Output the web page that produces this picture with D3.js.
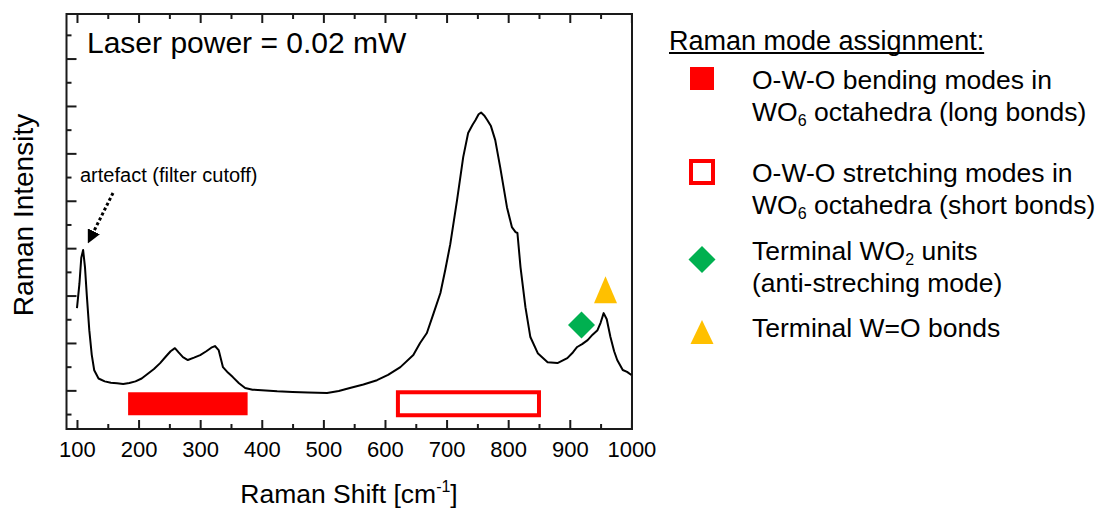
<!DOCTYPE html>
<html>
<head>
<meta charset="utf-8">
<script src="https://cdn.jsdelivr.net/npm/d3@7"></script>
<style>
  body { margin: 0; background: #fff; }
  text { font-family: Arial, "Liberation Sans", sans-serif; fill: #000; }
</style>
</head>
<body>
<div id="chartContainer"></div>
<script>
// spectrum (arb. units)
var shift = [100, 104, 107, 110, 113, 116, 120, 124, 128, 135, 145, 155, 165, 175, 185, 195, 205, 215, 225, 235, 245, 252, 259, 265, 272, 280, 290, 300, 310, 318, 324, 330, 337, 345, 353, 363, 373, 385, 400, 425, 450, 475, 506, 525, 543, 565, 587, 605, 625, 646, 657, 668, 679, 690, 698, 706, 717, 727, 735, 742, 747, 752, 756, 761, 766, 772, 779, 787, 793, 798, 806, 812, 815, 820, 828, 836, 848, 864, 880, 896, 905, 912, 920, 929, 937, 945, 950, 955, 960, 966, 972, 977, 986, 993, 1000];
var intensity = [347, 450, 560, 592, 520, 400, 254, 150, 85, 50, 38, 32, 30, 27, 31, 38, 50, 70, 90, 115, 145, 165, 178, 160, 140, 128, 138, 149, 165, 180, 187, 170, 98, 75, 56, 30, 10, 3, 1, -4, -7, -9, -11, -3, 10, 25, 43, 65, 98, 149, 200, 242, 326, 411, 510, 617, 803, 984, 1086, 1120, 1141, 1165, 1172, 1160, 1141, 1115, 1056, 942, 850, 773, 689, 668, 664, 520, 351, 225, 157, 119, 115, 136, 160, 183, 195, 212, 235, 254, 285, 326, 300, 225, 165, 128, 86, 78, 65];

var xTicks = [100, 200, 300, 400, 500, 600, 700, 800, 900, 1000];
var xMinorTicks = [150, 250, 350, 450, 550, 650, 750, 850, 950];
var yTicks = [0, 200, 400, 600, 800, 1000, 1200, 1400];
var yMinorTicks = [-100, 100, 300, 500, 700, 900, 1100, 1300, 1500];

// mode bands and markers (x in cm-1, y in intensity units)
var bendingBand = [183, 377];
var stretchingBand = [621, 850];
var bandLevel = [-105, -8];
var wo2Marker = [919, 276];
var woMarker = [958, 368];

var legendTitle = "Raman mode assignment:";
var legendItems = [
  {kind: "filled", lines: [["O-W-O bending modes in"], ["WO", "6", " octahedra (long bonds)"]]},
  {kind: "open", lines: [["O-W-O stretching modes in"], ["WO", "6", " octahedra (short bonds)"]]},
  {kind: "diamond", lines: [["Terminal WO", "2", " units"], ["(anti-streching mode)"]]},
  {kind: "triangle", lines: [["Terminal W=O bonds"]]}
];

var RED = "#ff0000", GREEN = "#00b050", GOLD = "#ffc000";

var svg = d3.select("#chartContainer").append("svg")
  .attr("width", 1101)
  .attr("height", 510);

var plot = {left: 66.5, right: 632, top: 14, bottom: 429};

var x = d3.scaleLinear().domain([83, 1001]).range([plot.left, plot.right]);
var y = d3.scaleLinear().domain([-163, 1588]).range([plot.bottom, plot.top]);

var g = svg.append("g");

// bottom axis
var bottomAxis = g.append("g")
  .attr("transform", "translate(0," + plot.bottom + ")")
  .call(d3.axisBottom(x).tickValues(xTicks).tickSize(-9).tickPadding(12).tickFormat(d3.format("d")));
bottomAxis.append("g").call(d3.axisBottom(x).tickValues(xMinorTicks).tickSize(-5).tickFormat(""));
bottomAxis.selectAll("text")
  .style("font-size", "22px")
  .style("font-family", "Arial, 'Liberation Sans', sans-serif")
  .attr("fill", "#000");

// top axis, ticks only
var topAxis = g.append("g")
  .attr("transform", "translate(0," + plot.top + ")")
  .call(d3.axisTop(x).tickValues(xTicks).tickSize(-9).tickFormat(""));
topAxis.append("g").call(d3.axisTop(x).tickValues(xMinorTicks).tickSize(-5).tickFormat(""));

// left axis, ticks only
var leftAxis = g.append("g")
  .attr("transform", "translate(" + plot.left + ",0)")
  .call(d3.axisLeft(y).tickValues(yTicks).tickSize(-10).tickFormat(""));
leftAxis.append("g").call(d3.axisLeft(y).tickValues(yMinorTicks).tickSize(-5).tickFormat(""));

g.selectAll(".domain").remove();
g.selectAll(".tick line").attr("stroke", "#1a1a1a").attr("stroke-width", 2);

// frame
g.append("rect")
  .attr("x", plot.left).attr("y", plot.top)
  .attr("width", plot.right - plot.left).attr("height", plot.bottom - plot.top)
  .attr("fill", "none").attr("stroke", "#1a1a1a").attr("stroke-width", 2);

// bands
g.append("rect")
  .attr("x", x(bendingBand[0])).attr("y", y(bandLevel[1]))
  .attr("width", x(bendingBand[1]) - x(bendingBand[0]))
  .attr("height", y(bandLevel[0]) - y(bandLevel[1]))
  .attr("fill", RED);
g.append("rect")
  .attr("x", x(stretchingBand[0])).attr("y", y(bandLevel[1]))
  .attr("width", x(stretchingBand[1]) - x(stretchingBand[0]))
  .attr("height", y(bandLevel[0]) - y(bandLevel[1]))
  .attr("fill", "none").attr("stroke", RED).attr("stroke-width", 4);

// spectrum
var line = d3.line()
  .x(function(d, i) { return x(shift[i]); })
  .y(function(d) { return y(d); });
g.append("path")
  .datum(intensity)
  .attr("d", line)
  .attr("fill", "none")
  .attr("stroke", "#000")
  .attr("stroke-width", 2)
  .attr("stroke-linejoin", "round");

// markers on the plot
g.append("path")
  .attr("d", "M0,-13.5L13.5,0L0,13.5L-13.5,0Z")
  .attr("transform", "translate(" + x(wo2Marker[0]) + "," + y(wo2Marker[1]) + ")")
  .attr("fill", GREEN);
g.append("path")
  .attr("d", "M0,-27L11.5,0L-11.5,0Z")
  .attr("transform", "translate(" + x(woMarker[0]) + "," + y(woMarker[1]) + ")")
  .attr("fill", GOLD);

// annotation text
svg.append("text")
  .attr("x", 87).attr("y", 53)
  .style("font-size", "30px")
  .text("Laser power = 0.02 mW");

svg.append("text")
  .attr("x", 80).attr("y", 182)
  .style("font-size", "20px")
  .text("artefact (filter cutoff)");

svg.append("defs").append("marker")
  .attr("id", "head")
  .attr("viewBox", "0 0 10 10")
  .attr("refX", 8).attr("refY", 5)
  .attr("markerWidth", 4.5).attr("markerHeight", 4.5)
  .attr("markerUnits", "strokeWidth")
  .attr("orient", "auto")
  .append("path").attr("d", "M0,0L10,5L0,10Z").attr("fill", "#000");

svg.append("line")
  .attr("x1", 113).attr("y1", 193)
  .attr("x2", 89).attr("y2", 241)
  .attr("stroke", "#000").attr("stroke-width", 3)
  .attr("stroke-dasharray", "3,2.5")
  .attr("marker-end", "url(#head)");

// axis titles
var xt = svg.append("text")
  .attr("x", 349).attr("y", 503)
  .attr("text-anchor", "middle")
  .style("font-size", "26.5px");
xt.append("tspan").text("Raman Shift [cm");
xt.append("tspan").attr("dy", -11).style("font-size", "16px").text("-1");
xt.append("tspan").attr("dy", 11).text("]");

svg.append("text")
  .attr("transform", "translate(33,215) rotate(-90)")
  .attr("text-anchor", "middle")
  .style("font-size", "28px")
  .text("Raman Intensity");

// legend
var lg = svg.append("g");
var title = lg.append("text")
  .attr("x", 669).attr("y", 50)
  .style("font-size", "27px")
  .text(legendTitle);
lg.append("line")
  .attr("x1", 669).attr("x2", 669 + title.node().getComputedTextLength())
  .attr("y1", 53).attr("y2", 53)
  .attr("stroke", "#000").attr("stroke-width", 2);

var itemBase = [89, 182, 260, 337];
var markerY = [78.5, 172, 259.5, 332];
var lineGap = 31.5;

legendItems.forEach(function(item, i) {
  var mx = 702, my = markerY[i];
  if (item.kind == "filled") {
    lg.append("rect").attr("x", mx - 12).attr("y", my - 11.5).attr("width", 24).attr("height", 23).attr("fill", RED);
  } else if (item.kind == "open") {
    lg.append("rect").attr("x", mx - 11).attr("y", my - 11).attr("width", 22).attr("height", 22)
      .attr("fill", "none").attr("stroke", RED).attr("stroke-width", 4);
  } else if (item.kind == "diamond") {
    lg.append("path").attr("d", "M0,-13.5L13.5,0L0,13.5L-13.5,0Z")
      .attr("transform", "translate(" + mx + "," + my + ")").attr("fill", GREEN);
  } else {
    lg.append("path").attr("d", "M0,-12L11.5,12L-11.5,12Z")
      .attr("transform", "translate(" + mx + "," + my + ")").attr("fill", GOLD);
  }
  item.lines.forEach(function(parts, j) {
    var t = lg.append("text")
      .attr("x", 752).attr("y", itemBase[i] + j * lineGap)
      .style("font-size", "26.5px");
    parts.forEach(function(p, k) {
      if (k == 1) {
        t.append("tspan").attr("dy", 5).style("font-size", "16px").text(p);
      } else if (k == 2) {
        t.append("tspan").attr("dy", -5).text(p);
      } else {
        t.append("tspan").text(p);
      }
    });
  });
});
</script>
</body>
</html>
